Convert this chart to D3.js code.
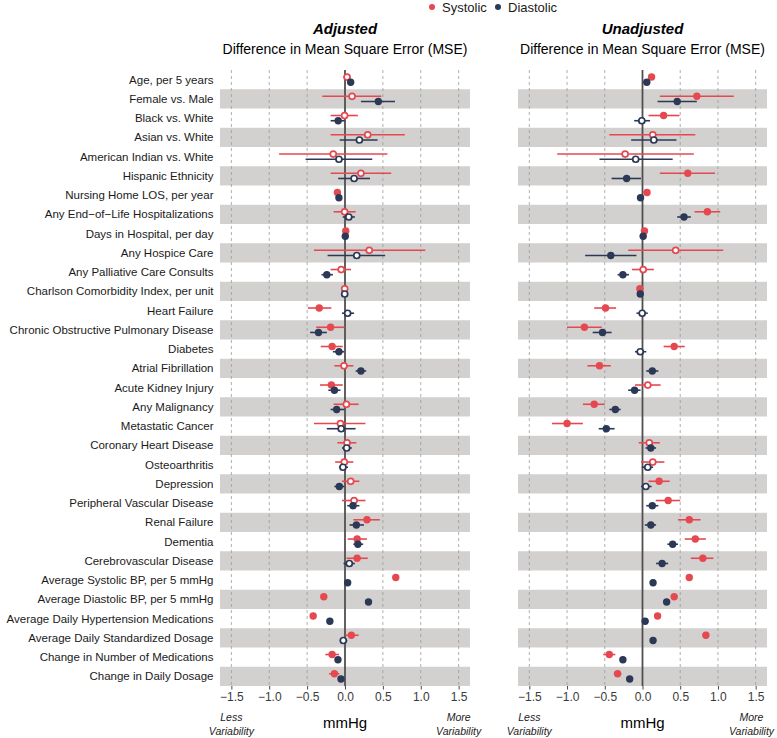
<!DOCTYPE html>
<html><head><meta charset="utf-8">
<script src="https://cdn.jsdelivr.net/npm/d3@7"></script>
<style>body{margin:0;background:#fff}svg{display:block;font-family:"Liberation Sans",Arial,Helvetica,sans-serif}</style>
</head><body><svg id="chart" width="777" height="738"></svg>
<script>
const categories = ["Age, per 5 years","Female vs. Male","Black vs. White","Asian vs. White","American Indian vs. White","Hispanic Ethnicity","Nursing Home LOS, per year","Any End\u2212of\u2212Life Hospitalizations","Days in Hospital, per day","Any Hospice Care","Any Palliative Care Consults","Charlson Comorbidity Index, per unit","Heart Failure","Chronic Obstructive Pulmonary Disease","Diabetes","Atrial Fibrillation","Acute Kidney Injury","Any Malignancy","Metastatic Cancer","Coronary Heart Disease","Osteoarthritis","Depression","Peripheral Vascular Disease","Renal Failure","Dementia","Cerebrovascular Disease","Average Systolic BP, per 5 mmHg","Average Diastolic BP, per 5 mmHg","Average Daily Hypertension Medications","Average Daily Standardized Dosage","Change in Number of Medications","Change in Daily Dosage"];
const seriesNames = ["Systolic","Diastolic"];
const panelTitles = ["Adjusted","Unadjusted"];
const tickValues = [-1.5,-1.0,-0.5,0.0,0.5,1.0,1.5];

const adjSysVal = [0.027,0.093,-0.005,0.30,-0.155,0.21,-0.10,-0.005,0.01,0.32,-0.05,-0.004,-0.34,-0.19,-0.17,-0.013,-0.18,0.018,-0.06,0.027,-0.009,0.075,0.12,0.29,0.16,0.16,0.67,-0.28,-0.42,0.084,-0.17,-0.14];
const adjSysLo  = [-0.02,-0.30,-0.19,-0.19,-0.87,-0.19,-0.12,-0.15,0.002,-0.41,-0.19,-0.03,-0.49,-0.38,-0.32,-0.14,-0.33,-0.15,-0.41,-0.10,-0.13,-0.04,-0.04,0.11,0.035,0.02,0.65,-0.30,-0.44,0.005,-0.26,-0.21];
const adjSysHi  = [0.07,0.48,0.17,0.79,0.56,0.61,-0.08,0.14,0.02,1.06,0.08,0.02,-0.18,-0.005,-0.03,0.11,-0.03,0.18,0.27,0.15,0.11,0.19,0.27,0.46,0.29,0.30,0.69,-0.26,-0.40,0.18,-0.08,-0.075];
const adjDiaVal = [0.075,0.44,-0.09,0.19,-0.08,0.12,-0.08,0.05,0.004,0.155,-0.24,-0.004,0.035,-0.35,-0.08,0.21,-0.14,-0.11,-0.05,0.022,-0.027,-0.075,0.106,0.15,0.17,0.057,0.035,0.31,-0.20,-0.022,-0.093,-0.053];
const adjDiaLo  = [0.06,0.21,-0.19,-0.07,-0.52,-0.09,-0.095,-0.03,0.001,-0.23,-0.31,-0.015,-0.04,-0.46,-0.16,0.14,-0.22,-0.19,-0.24,-0.04,-0.08,-0.14,0.03,0.06,0.11,-0.02,0.025,0.30,-0.21,-0.07,-0.13,-0.085];
const adjDiaHi  = [0.09,0.66,-0.005,0.43,0.36,0.33,-0.065,0.13,0.007,0.53,-0.16,0.008,0.12,-0.24,-0.01,0.28,-0.06,-0.01,0.14,0.09,0.04,-0.01,0.19,0.25,0.24,0.13,0.045,0.32,-0.19,0.03,-0.055,-0.02];

const unadjSysVal = [0.12,0.72,0.28,0.136,-0.23,0.60,0.06,0.86,0.026,0.44,0.009,-0.035,-0.49,-0.77,0.42,-0.57,0.07,-0.64,-1.0,0.09,0.136,0.22,0.34,0.62,0.70,0.80,0.62,0.42,0.20,0.84,-0.44,-0.33];
const unadjSysLo  = [0.10,0.23,0.08,-0.44,-1.13,0.23,0.045,0.69,0.015,-0.19,-0.14,-0.045,-0.64,-1.00,0.28,-0.73,-0.10,-0.79,-1.20,-0.05,-0.02,0.08,0.175,0.47,0.56,0.64,0.60,0.40,0.18,0.82,-0.52,-0.38];
const unadjSysHi  = [0.14,1.21,0.49,0.70,0.68,0.96,0.075,1.03,0.035,1.07,0.15,-0.025,-0.35,-0.54,0.56,-0.42,0.24,-0.50,-0.79,0.23,0.29,0.36,0.50,0.77,0.84,0.94,0.64,0.44,0.22,0.86,-0.36,-0.28];
const unadjDiaVal = [0.057,0.46,-0.009,0.15,-0.09,-0.21,-0.026,0.55,0.009,-0.42,-0.26,-0.03,-0.004,-0.53,-0.03,0.13,-0.105,-0.36,-0.48,0.11,0.07,0.044,0.13,0.11,0.40,0.26,0.14,0.32,0.035,0.14,-0.26,-0.17];
const unadjDiaLo  = [0.045,0.20,-0.11,-0.15,-0.57,-0.41,-0.035,0.46,0.002,-0.76,-0.33,-0.04,-0.08,-0.66,-0.10,0.05,-0.19,-0.44,-0.58,0.04,-0.01,-0.02,0.05,0.03,0.33,0.18,0.12,0.30,0.02,0.12,-0.29,-0.19];
const unadjDiaHi  = [0.07,0.72,0.10,0.45,0.40,-0.02,-0.015,0.64,0.016,-0.08,-0.18,-0.02,0.07,-0.41,0.05,0.21,-0.026,-0.29,-0.37,0.18,0.14,0.12,0.21,0.18,0.47,0.34,0.16,0.34,0.05,0.16,-0.23,-0.15];

const COL = {Systolic:"#e5484f", Diastolic:"#2b3856"};
const W = 777;
const svg = d3.select("#chart");
const plotTop = 70, plotBottom = 686;
const y = d3.scaleBand().domain(categories).range([plotTop, plotBottom]).paddingInner(0).paddingOuter(0);
const dodge = {Systolic:-2.6, Diastolic:2.6};

const panels = [
  {title:panelTitles[0], range:[220,470], series:[
    {name:"Systolic", val:adjSysVal, lo:adjSysLo, hi:adjSysHi},
    {name:"Diastolic", val:adjDiaVal, lo:adjDiaLo, hi:adjDiaHi}]},
  {title:panelTitles[1], range:[518,767], series:[
    {name:"Systolic", val:unadjSysVal, lo:unadjSysLo, hi:unadjSysHi},
    {name:"Diastolic", val:unadjDiaVal, lo:unadjDiaLo, hi:unadjDiaHi}]}
];

panels.forEach(p => {
  const x = d3.scaleLinear().domain([-1.65,1.65]).range(p.range);
  const g = svg.append("g");
  const cx = (p.range[0]+p.range[1])/2;
  g.selectAll("rect.band").data(categories.filter((c,i)=>i%2===1)).join("rect")
    .attr("x", p.range[0]).attr("width", p.range[1]-p.range[0])
    .attr("y", d=>y(d)).attr("height", y.bandwidth()).attr("fill","#d3d1cf");
  g.selectAll("line.grid").data(tickValues.filter(t=>t!==0)).join("line")
    .attr("x1", d=>x(d)).attr("x2", d=>x(d)).attr("y1", plotTop).attr("y2", plotBottom)
    .attr("stroke","#9a9a9a").attr("stroke-width",0.8).attr("stroke-dasharray","3,3");
  const ax = d3.axisBottom(x).tickValues(tickValues).tickFormat(d=>d3.format(".1f")(d).replace("-","\u2212")).tickSizeOuter(0).tickSize(3.5).tickPadding(3);
  const axg = g.append("g").attr("transform",`translate(0,${plotBottom})`).call(ax);
  axg.select(".domain").remove();
  axg.selectAll(".tick line").attr("stroke","#333").attr("stroke-width",0.9);
  axg.selectAll(".tick text").attr("fill","#3a3a3a").attr("font-size",12).attr("font-family","Liberation Sans, Arial, sans-serif");
  g.append("line").attr("x1",x(0)).attr("x2",x(0)).attr("y1",plotTop).attr("y2",plotBottom)
    .attr("stroke","#505050").attr("stroke-width",1.8);
  p.series.forEach(s => {
    const rows = categories.map((c,i)=>({c, v:s.val[i], lo:s.lo[i], hi:s.hi[i]}));
    const yy = d => y(d.c) + y.bandwidth()/2 + dodge[s.name];
    g.selectAll(null).data(rows).join("line")
      .attr("x1", d=>x(d.lo)).attr("x2", d=>x(d.hi)).attr("y1", yy).attr("y2", yy)
      .attr("stroke", COL[s.name]).attr("stroke-width",1.6);
    g.selectAll(null).data(rows).join("circle")
      .attr("cx", d=>x(d.v)).attr("cy", yy)
      .attr("r", d=> (d.lo<=0 && d.hi>=0) ? 3.0 : 3.7)
      .attr("fill", d=> (d.lo<=0 && d.hi>=0) ? "#fff" : COL[s.name])
      .attr("stroke", d=> (d.lo<=0 && d.hi>=0) ? COL[s.name] : "none")
      .attr("stroke-width", 1.7);
  });
  svg.append("text").attr("x",cx).attr("y",34).attr("text-anchor","middle")
    .attr("font-size",15).attr("font-weight","bold").attr("font-style","italic").attr("fill","#000").text(p.title);
  svg.append("text").attr("x",cx).attr("y",53.5).attr("text-anchor","middle")
    .attr("font-size",14).attr("fill","#000").text("Difference in Mean Square Error (MSE)");
  svg.append("text").attr("x",cx).attr("y",728).attr("text-anchor","middle")
    .attr("font-size",15).attr("fill","#000").text("mmHg");
  [["Less",-1.5],["More",1.5]].forEach(([w,v])=>{
    const t = svg.append("text").attr("text-anchor","middle").attr("font-size",10.5)
      .attr("font-style","italic").attr("fill","#222");
    const t1 = t.append("tspan").attr("y",721).text(w);
    const t2 = t.append("tspan").attr("y",735).text("Variability");
    const half = 23.5;
    const xc = Math.min(Math.max(x(v), half + 2), W - half - 2);
    t1.attr("x", xc); t2.attr("x", xc);
  });
});

svg.append("g").selectAll("text").data(categories).join("text")
  .attr("x",213.5).attr("y",d=>y(d)+y.bandwidth()/2).attr("dy","0.35em")
  .attr("text-anchor","end").attr("font-size",11.5).attr("fill","#1a1a1a").text(d=>d);

const leg = svg.append("g");
const legX = [432, 498];
seriesNames.forEach((n,i)=>{
  leg.append("circle").attr("cx",legX[i]).attr("cy",7).attr("r",3).attr("fill",COL[n]);
  leg.append("text").attr("x",legX[i]+10).attr("y",11.5).attr("font-size",13).attr("fill","#1a1a1a").text(n);
});
</script></body></html>
